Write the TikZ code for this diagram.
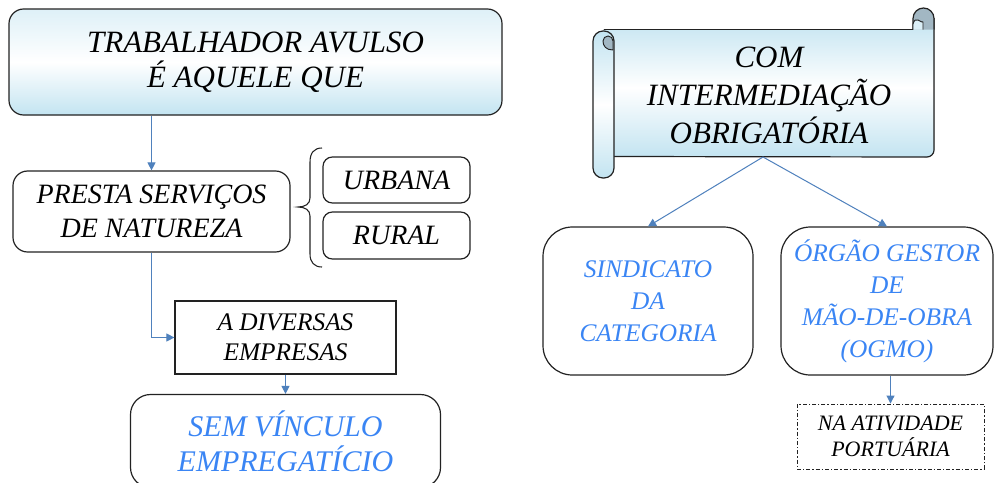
\documentclass[tikz,border=0pt]{standalone}
\usepackage{fontspec}
\setmainfont{Liberation Serif}
\newfontfamily\itserif{Liberation Serif Italic}
\usetikzlibrary{arrows.meta}
\definecolor{boxblue}{HTML}{C3E4F1}
\definecolor{arrowblue}{HTML}{4F81BD}
\definecolor{textblue}{HTML}{3A85F4}
\definecolor{curlgray}{HTML}{A2B7C3}
\definecolor{edgec}{HTML}{222222}
\begin{document}
\begin{tikzpicture}[x=0.75pt,y=-0.75pt,
  box/.style={draw=edgec, line width=0.9pt, align=center, inner sep=0pt},
  bluebox/.style={box, top color=boxblue!55, bottom color=boxblue, middle color=white},
  arr/.style={draw=arrowblue, line width=0.75pt, -{Triangle[length=6pt,width=6pt]}}]
\clip (0,0) rectangle (994,482);
\fill[white] (0,0) rectangle (994,482);

% left column
\node[bluebox, rounded corners=11pt, minimum width=369.75pt, minimum height=79.5pt,
  font=\itserif\fontsize{23.25pt}{26.25pt}\selectfont] (top) at (255.5,62)
  {TRABALHADOR AVULSO\\É AQUELE QUE};
\node[box, fill=white, rounded corners=11pt, minimum width=207.75pt, minimum height=60.75pt,
  font=\itserif\fontsize{21pt}{26pt}\selectfont] (presta) at (151.5,211.5)
  {PRESTA SERVIÇOS\\DE NATUREZA};
\node[box, rounded corners=7pt, minimum width=110.25pt, minimum height=34.5pt,
  font=\itserif\fontsize{21pt}{26pt}\selectfont] (urbana) at (396.5,180) {URBANA};
\node[box, rounded corners=7pt, minimum width=110.25pt, minimum height=35.25pt,
  font=\itserif\fontsize{21pt}{26pt}\selectfont] (rural) at (396.5,235.5) {RURAL};
\draw[edgec, line width=0.8pt] (322,148) .. controls (314,148) and (310,153) .. (310,162)
  -- (310,198) .. controls (310,204) and (305,207) .. (298,207)
  .. controls (305,207) and (310,210) .. (310,216)
  -- (310,254) .. controls (310,262) and (314,267) .. (322,267);
\node[box, minimum width=165.75pt, minimum height=54.75pt,
  font=\itserif\fontsize{19pt}{22.5pt}\selectfont] (diversas) at (285.5,337.5)
  {A DIVERSAS\\EMPRESAS};
\node[box, rounded corners=15pt, minimum width=232.5pt, minimum height=69.75pt,
  text=textblue, font=\itserif\fontsize{22.5pt}{26pt}\selectfont] (sem) at (285.5,441)
  {SEM VÍNCULO\\EMPREGATÍCIO};

\draw[arr] (presta.north |- top.south) -- (presta.north);
\draw[arr] (presta.south) |- (diversas.west);
\draw[arr] (diversas.south) -- (sem.north);

% scroll
\fill[top color=boxblue, bottom color=boxblue, middle color=white]
  (603.5,29.5) -- (913,29.5) -- (913,18) -- (934,18) -- (934,150) arc[start angle=0,end angle=90,radius=7]
  -- (614,156.5) -- cycle;
\draw[edgec, line width=0.9pt] (603.5,29.5) -- (913,29.5);
\draw[edgec, line width=0.9pt] (934,18) -- (934,150) arc[start angle=0,end angle=90,radius=7] -- (614,156.5);
\draw[edgec, line width=0.9pt, fill=curlgray] (913,29.5) -- (913,18.5) arc[start angle=180,end angle=360,radius=10.5] -- (934,29.5);
\draw[edgec, line width=0.7pt, fill=boxblue!60] (913,29.5) -- (913,24) .. controls (914,20) and (916,19) .. (918,20) .. controls (921,21) and (922,23) .. (923,22) -- (923,29.5);
\draw[edgec, line width=0.9pt, top color=boxblue, bottom color=boxblue, middle color=white,
  rounded corners=7.5pt] (593,31) rectangle (614,178);
\draw[edgec, line width=0.7pt, fill=curlgray] (613,50) -- (613,41) arc[start angle=0,end angle=-180,radius=5]
  .. controls (603,46) and (606,50) .. (613,50);
\node[font=\itserif\fontsize{23.25pt}{28.5pt}\selectfont, align=center, inner sep=0pt] (scroll) at (769,95)
  {COM\\INTERMEDIAÇÃO\\OBRIGATÓRIA};
\coordinate (sb) at (763,157);

% right column
\node[box, rounded corners=22pt, minimum width=157.5pt, minimum height=111pt,
  text=textblue, font=\itserif\fontsize{19pt}{24pt}\selectfont] (sindicato) at (648,301)
  {SINDICATO\\DA\\CATEGORIA};
\node[box, rounded corners=22pt, minimum width=159pt, minimum height=111pt,
  text=textblue, font=\itserif\fontsize{19pt}{24pt}\selectfont] (orgao) at (887,301)
  {ÓRGÃO GESTOR\\DE\\MÃO-DE-OBRA\\(OGMO)};
\node[box, dash pattern=on 3pt off 1.5pt on 1pt off 1.5pt, line width=0.7pt,
  minimum width=140.25pt, minimum height=48.75pt,
  font=\itserif\fontsize{16.5pt}{19pt}\selectfont] (na) at (890.5,436.5)
  {NA ATIVIDADE\\PORTUÁRIA};

\draw[arr] (sb) -- (sindicato.north);
\draw[arr] (sb) -- (orgao.north);
\draw[arr] (na.north |- orgao.south) -- (na.north);
\end{tikzpicture}
\end{document}
